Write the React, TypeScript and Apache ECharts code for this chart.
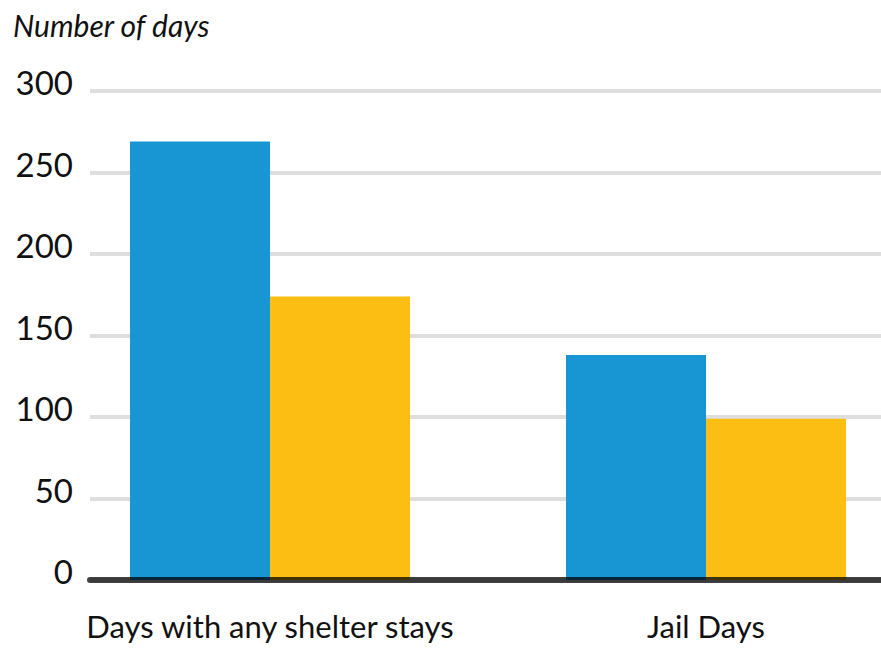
import React, { useEffect, useRef } from "react";
import * as echarts from "echarts";

const categories = ["Days with any shelter stays", "Jail Days"];
const blueValues = [269, 138];
const yellowValues = [174, 99];
const yMin = 0;
const yMax = 300;
const yInterval = 50;

const FONT = 'Lato, "Liberation Sans", sans-serif';

export default function App() {
  const ref = useRef<HTMLDivElement>(null);
  useEffect(() => {
    if (!ref.current) return;
    const chart = echarts.init(ref.current, null, { renderer: "svg" });
    chart.setOption({
      animation: false,
      backgroundColor: "#ffffff",
      title: {
        text: "Number of days",
        left: 8,
        top: 5,
        textStyle: {
          fontFamily: FONT,
          fontStyle: "italic",
          fontWeight: "normal",
          fontSize: 30,
          color: "#111111",
        },
      },
      grid: [
        { left: 52, right: 0, top: 91, bottom: 70 },
        { left: 90, right: 43, top: 91, bottom: 70 },
      ],
      xAxis: [
        {
          type: "category",
          gridIndex: 0,
          data: categories,
          axisLine: { show: false },
          axisTick: { show: false },
          splitLine: { show: false },
          axisLabel: {
            interval: 0,
            fontFamily: FONT,
            fontSize: 31,
            color: "#111111",
            margin: 30,
          },
        },
        {
          type: "value",
          gridIndex: 1,
          min: 0,
          max: 1,
          z: 10,
          axisLabel: { show: false },
          axisTick: { show: false },
          splitLine: { show: false },
          axisLine: {
            show: true,
            lineStyle: { color: "rgba(0,0,0,0.74)", width: 6 },
          },
        },
      ],
      yAxis: [
        {
          type: "value",
          gridIndex: 0,
          min: yMin,
          max: yMax,
          interval: yInterval,
          show: false,
        },
        {
          type: "value",
          gridIndex: 1,
          min: yMin,
          max: yMax,
          interval: yInterval,
          axisLine: { show: false },
          axisTick: { show: false },
          splitLine: { lineStyle: { color: "#dedede", width: 4 } },
          axisLabel: {
            fontFamily: FONT,
            fontSize: 33,
            color: "#111111",
            margin: 17,
            verticalAlign: "bottom",
            lineHeight: 18,
          },
        },
      ],
      series: [
        {
          type: "bar",
          xAxisIndex: 0,
          yAxisIndex: 0,
          data: blueValues,
          barWidth: 140,
          barGap: "0%",
          itemStyle: { color: "#1896d3" },
        },
        {
          type: "bar",
          xAxisIndex: 0,
          yAxisIndex: 0,
          data: yellowValues,
          barWidth: 140,
          barGap: "0%",
          itemStyle: { color: "#fcbe13" },
        },
      ],
    });
    return () => chart.dispose();
  }, []);
  return (
    <div
      style={{
        position: "fixed",
        left: 0,
        top: 0,
        width: 881,
        height: 650,
        overflow: "hidden",
        background: "#ffffff",
      }}
    >
      <div ref={ref} style={{ width: 924, height: 650 }} />
    </div>
  );
}
